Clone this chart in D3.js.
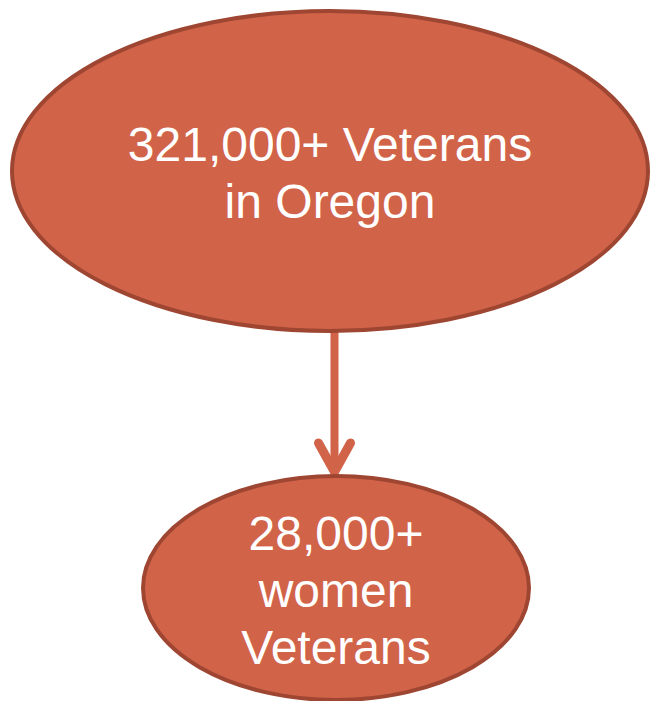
<!DOCTYPE html>
<html>
<head>
<meta charset="utf-8">
<script src="https://cdn.jsdelivr.net/npm/d3@7"></script>
<style>
  body { margin: 0; background: #fff; }
  svg { display: block; }
</style>
</head>
<body>
<script>
// Diagram content
const nodeIds = ['all', 'women'];
const nodeLines = [
  ['321,000+ Veterans', 'in Oregon'],
  ['28,000+', 'women', 'Veterans']
];
const links = [{ source: 'all', target: 'women' }];

const width = 650;
const height = 701;

// layout per node (positions kept out of the data)
const layout = {
  all:   { cx: 330, cy: 171, rx: 318, ry: 160, fontSize: 48, lineGap: 57, firstBaseline: 161 },
  women: { cx: 336, cy: 588, rx: 193, ry: 112, fontSize: 48, lineGap: 57, firstBaseline: 550 }
};

const fill = '#D16349';
const edge = '#9E4632';

const svg = d3.select('body')
  .append('svg')
  .attr('width', width)
  .attr('height', height);

const nodes = nodeIds.map((id, i) => ({ id, lines: nodeLines[i], ...layout[id] }));
const byId = new Map(nodes.map(d => [d.id, d]));

// Arrows
const arrows = svg.append('g').attr('class', 'links');
links.forEach(l => {
  const s = byId.get(l.source);
  const t = byId.get(l.target);
  const x = (s.cx + t.cx) / 2 + 1.5;
  const y0 = s.cy + s.ry;
  const y1 = t.cy - t.ry - 1;
  arrows.append('line')
    .attr('x1', x).attr('x2', x)
    .attr('y1', y0).attr('y2', y1 - 3)
    .attr('stroke', fill)
    .attr('stroke-width', 8);
  arrows.append('path')
    .attr('d', d3.line()([[x - 16, y1 - 32], [x, y1 - 3], [x + 16, y1 - 32]]))
    .attr('fill', 'none')
    .attr('stroke', fill)
    .attr('stroke-width', 9)
    .attr('stroke-linecap', 'round')
    .attr('stroke-linejoin', 'miter');
});

// Ellipses
const g = svg.append('g').attr('class', 'nodes')
  .selectAll('g')
  .data(nodes)
  .join('g');

g.append('ellipse')
  .attr('cx', d => d.cx)
  .attr('cy', d => d.cy)
  .attr('rx', d => d.rx)
  .attr('ry', d => d.ry)
  .attr('fill', fill)
  .attr('stroke', edge)
  .attr('stroke-width', 4);

g.append('text')
  .attr('text-anchor', 'middle')
  .attr('fill', '#fff')
  .attr('font-family', 'Liberation Sans, Arial, sans-serif')
  .attr('font-size', d => d.fontSize)
  .selectAll('tspan')
  .data(d => d.lines.map((s, i) => ({ s, x: d.cx, y: d.firstBaseline + i * d.lineGap })))
  .join('tspan')
  .attr('x', d => d.x)
  .attr('y', d => d.y)
  .text(d => d.s);
</script>
</body>
</html>
